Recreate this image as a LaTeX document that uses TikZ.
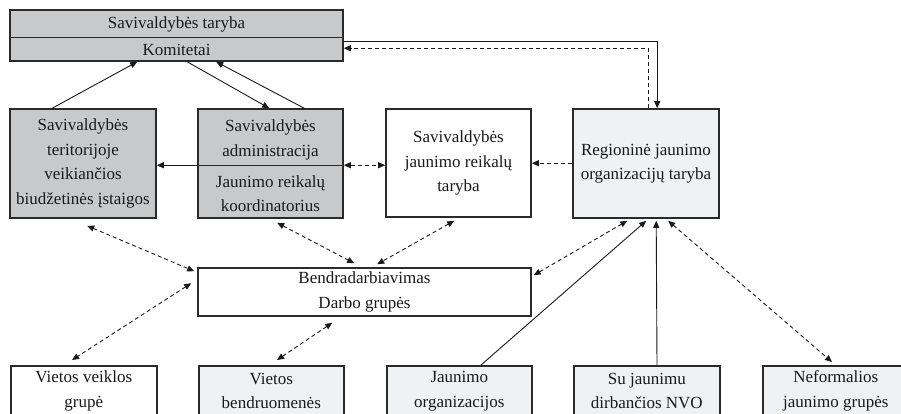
\documentclass[tikz,border=0pt]{standalone}
\usepackage{fontspec}
\setmainfont{Liberation Serif}
\usetikzlibrary{arrows.meta,calc}
\definecolor{darkfill}{HTML}{C8C9CB}
\definecolor{lightfill}{HTML}{F0F1F3}
\definecolor{edge}{HTML}{2A2A2A}
\tikzset{
  box/.style={draw=edge, line width=1.6pt, rectangle, inner sep=0pt, align=center,
    font=\fontsize{17}{24.5}\selectfont, text=black!90},
  txt/.style={inner sep=0pt, align=center, font=\fontsize{17}{24.5}\selectfont, text=black!90},
  divider/.style={draw=edge, line width=0.8pt},
  conn/.style={draw=black!90, line width=0.9pt},
  tip/.style={-{Triangle[length=7pt,width=6pt]}},
  tips/.style={{Triangle[length=7pt,width=6pt]}-{Triangle[length=7pt,width=6pt]}},
  dsh/.style={dash pattern=on 4pt off 3pt}
}
\begin{document}
\begin{tikzpicture}[x=1pt,y=-1pt]
\useasboundingbox (0,0) rectangle (901,413);
\clip (0,0) rectangle (901,413);
\fill[white] (0,0) rectangle (901,413);

% top box
\node[box, fill=darkfill, minimum width=333pt, minimum height=51pt] (top) at (176.5,35.5) {};
\draw[divider] (top.west |- 0,37.5) -- (top.east |- 0,37.5);
\node[txt] (topa) at (176.5,24) {Savivaldybės taryba};
\node[txt] (topb) at (176.5,49.5) {Komitetai};

% second row
\node[box, fill=darkfill, minimum width=146pt, minimum height=109pt] (b1) at (83,163.5)
  {Savivaldybės\\teritorijoje\\veikiančios\\biudžetinės įstaigos};
\node[box, fill=darkfill, minimum width=145pt, minimum height=109pt] (b2) at (270.5,163.5) {};
\draw[divider] ($(b2.north west)+(0,57)$) -- ($(b2.north east)+(0,57)$);
\node[txt] (b2a) at (270.5,140) {Savivaldybės\\administracija};
\node[txt] (b2b) at (270.5,193.5) {Jaunimo reikalų\\koordinatorius};
\node[box, fill=white, minimum width=145pt, minimum height=108pt] (b3) at (458.5,163)
  {Savivaldybės\\jaunimo reikalų\\taryba};
\node[box, fill=lightfill, minimum width=146pt, minimum height=109pt] (b4) at (646,163.5)
  {Regioninė jaunimo\\organizacijų taryba};

% middle
\node[box, fill=white, minimum width=333pt, minimum height=48pt] (bend) at (364.5,292)
  {Bendradarbiavimas\\Darbo grupės};

% bottom row
\node[box, fill=white, minimum width=146pt, minimum height=90pt, anchor=north west] (v1) at (10,365) {};
\node[box, fill=lightfill, minimum width=145pt, minimum height=90pt, anchor=north west] (v2) at (198,365) {};
\node[box, fill=lightfill, minimum width=145pt, minimum height=90pt, anchor=north west] (v3) at (386,365) {};
\node[box, fill=lightfill, minimum width=146pt, minimum height=90pt, anchor=north west] (v4) at (573,365) {};
\node[box, fill=lightfill, minimum width=146pt, minimum height=90pt, anchor=north west] (v5) at (762,365) {};
\node[txt] (v1t) at ($(v1.north)+(0,26)$) {Vietos veiklos\\grupė};
\node[txt] (v2t) at ($(v2.north)+(0,26)$) {Vietos\\bendruomenės};
\node[txt] (v3t) at ($(v3.north)+(0,26)$) {Jaunimo\\organizacijos};
\node[txt] (v4t) at ($(v4.north)+(0,26)$) {Su jaunimu\\dirbančios NVO};
\node[txt] (v5t) at ($(v5.north)+(0,26)$) {Neformalios\\jaunimo grupės};

% connectors top
\draw[conn,tip] ($(b1.north west)+(43,0)$) -- ($(top.south west)+(128,0)$);
\draw[conn,tip] ($(top.south west)+(178,0)$) -- ($(b2.north west)+(72,0)$);
\draw[conn,tip] ($(b2.north west)+(107,0)$) -- ($(top.south west)+(207,0)$);
\draw[conn,tip] ($(top.north east)+(0,32)$) -| ($(b4.north west)+(85,0)$);
\draw[conn,dsh,tip] ($(b4.north west)+(76,0)$) |- ($(top.north east)+(0,39)$);

% second row horizontal
\draw[conn,tip] ($(b2.north west)+(0,57)$) -- ($(b1.north east)+(0,57)$);
\draw[conn,dsh,tips] ($(b2.north east)+(0,57)$) -- ($(b3.north west)+(0,57)$);
\draw[conn,dsh,tip] ($(b4.north west)+(0,55)$) -- ($(b3.north east)+(0,55)$);

% around Bendradarbiavimas
\draw[conn,dsh,tips] ($(b1.south west)+(78,7)$) -- ($(bend.north west)+(-3,4)$);
\draw[conn,dsh,tips] ($(bend.north west)+(-6,16)$) -- ($(v1.north west)+(62,-5)$);
\draw[conn,dsh,tips] ($(b2.south west)+(80,4)$) -- ($(bend.north west)+(157,-4)$);
\draw[conn,dsh,tips] ($(b3.south west)+(69,3)$) -- ($(bend.north west)+(180,-3)$);
\draw[conn,dsh,tips] ($(bend.south west)+(135,6)$) -- ($(v2.north west)+(79,-5)$);
\draw[conn,dsh,tips] ($(bend.north east)+(2,8)$) -- ($(b4.south west)+(55,2)$);

% to regional council
\draw[conn,tip] ($(v3.north west)+(95,0)$) -- ($(b4.south west)+(74,2)$);
\draw[conn,tip] ($(v4.north west)+(84,0)$) -- ($(b4.south west)+(84,2)$);
\draw[conn,dsh,tips] ($(b4.south west)+(96,2)$) -- ($(v5.north west)+(70,-3)$);
\end{tikzpicture}
\end{document}
